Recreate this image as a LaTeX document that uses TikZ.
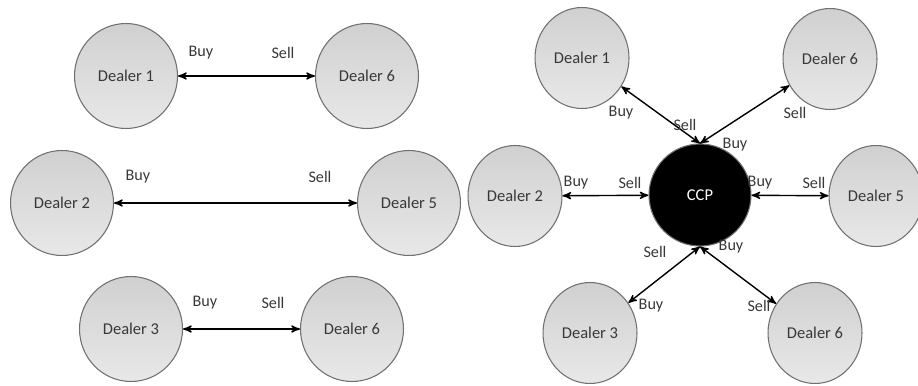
\documentclass[tikz,border=0pt]{standalone}
\usepackage{fontspec}
\setmainfont{Carlito}
\usetikzlibrary{arrows,shapes.geometric}

\definecolor{rimgray}{HTML}{707070}
\definecolor{textgray}{HTML}{383838}
\definecolor{topgray}{HTML}{D0D0D0}
\definecolor{lowgray}{HTML}{E8E8E8}

\begin{document}
\begin{tikzpicture}[x=0.02cm,y=-0.02cm,<->,>=stealth',line width=0.8pt,
  dealer/.style={ellipse,draw=rimgray,line width=0.6pt,top color=topgray,bottom color=lowgray,
    text=textgray,font=\fontsize{9.4}{11}\selectfont,inner sep=0pt,
    minimum width=2.06cm,minimum height=2.1cm},
  small dealer/.style={dealer,minimum width=1.88cm,minimum height=2.02cm},
  hub/.style={circle,fill=black,draw=rimgray,line width=0.6pt,text=white,
    font=\fontsize{9.4}{11}\selectfont,minimum size=2.04cm,inner sep=0pt},
  lbl/.style={text=textgray,font=\fontsize{9.2}{11}\selectfont,inner sep=1pt}]
  \useasboundingbox (0,0) rectangle (918,385);

  % bilateral trades
  \node[dealer] (d1l) at (126,76) {Dealer 1};
  \node[dealer] (d6l) at (367,76) {Dealer 6};
  \node[dealer] (d2l) at (62,203) {Dealer 2};
  \node[dealer] (d5l) at (409,203) {Dealer 5};
  \node[dealer] (d3l) at (131,329) {Dealer 3};
  \node[dealer] (d6lb) at (352,329) {Dealer 6};
  \path (d1l) edge (d6l)
        (d2l) edge (d5l)
        (d3l) edge (d6lb);
  \node[lbl] (buy1) at (201,53) {Buy};
  \node[lbl] (sell1) at (283,53) {Sell};
  \node[lbl] (buy2) at (138,177) {Buy};
  \node[lbl] (sell2) at (320,177) {Sell};
  \node[lbl] (buy3) at (205,303) {Buy};
  \node[lbl] (sell3) at (273,303) {Sell};

  % central clearing
  \node[hub] (ccp) at (700,195) {CCP};
  \node[small dealer] (d1r) at (582,58) {Dealer 1};
  \node[small dealer] (d6r) at (830,59) {Dealer 6};
  \node[small dealer] (d2r) at (515,196) {Dealer 2};
  \node[small dealer] (d5r) at (876,196) {Dealer 5};
  \node[small dealer] (d3r) at (590,333) {Dealer 3};
  \node[small dealer] (d6rb) at (815,333) {Dealer 6};
  \path (ccp.north) edge (d1r)
        (ccp.north) edge (d6r)
        (d2r) edge (ccp)
        (ccp) edge (d5r)
        (ccp.south) edge (d3r)
        (ccp.south) edge (d6rb);
  \node[lbl] (buy4) at (621,113) {Buy};
  \node[lbl] (sell4) at (685,125) {Sell};
  \node[lbl] (buy5) at (735,145) {Buy};
  \node[lbl] (sell5) at (795,113) {Sell};
  \node[lbl] (buy6) at (576,183) {Buy};
  \node[lbl] (sell6) at (630,183) {Sell};
  \node[lbl] (buy7) at (760,183) {Buy};
  \node[lbl] (sell7) at (814,183) {Sell};
  \node[lbl] (sell8) at (655,252) {Sell};
  \node[lbl] (buy8) at (731,247) {Buy};
  \node[lbl] (buy9) at (651,306) {Buy};
  \node[lbl] (sell9) at (759,306) {Sell};
\end{tikzpicture}
\end{document}
